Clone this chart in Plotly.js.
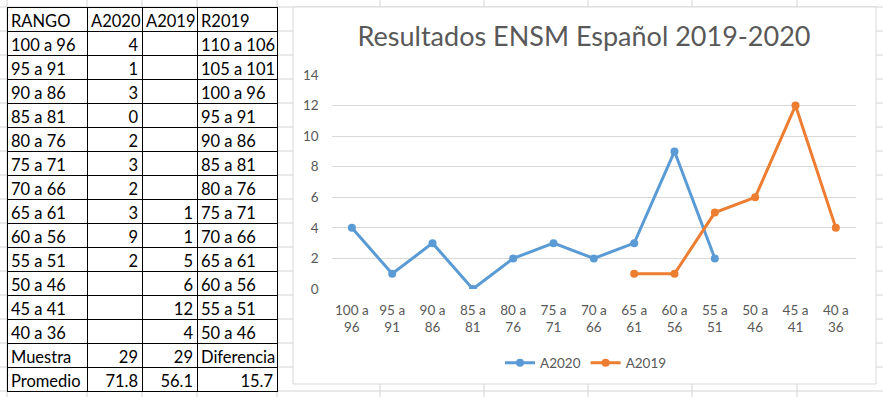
<!DOCTYPE html>
<html>
<head>
<meta charset="utf-8">
<script src="https://cdn.plot.ly/plotly-3.0.1.min.js"></script>
<style>html,body{margin:0;padding:0;background:#fff;}#chart{width:883px;height:397px;}</style>
</head>
<body>
<div id="chart"></div>
<script>
// ---- data ----
const rango = ['100 a 96','95 a 91','90 a 86','85 a 81','80 a 76','75 a 71','70 a 66','65 a 61','60 a 56','55 a 51','50 a 46','45 a 41','40 a 36'];
const a2020 = [4,1,3,0,2,3,2,3,9,2,null,null,null];
const a2019 = [null,null,null,null,null,null,null,1,1,5,6,12,4];
const r2019 = ['110 a 106','105 a 101','100 a 96','95 a 91','90 a 86','85 a 81','80 a 76','75 a 71','70 a 66','65 a 61','60 a 56','55 a 51','50 a 46'];
const tableHeader = ['RANGO','A2020','A2019','R2019'];
const muestraRow = ['Muestra', 29, 29, 'Diferencia'];
const promedioRow = ['Promedio', '71.8', '56.1', '15.7'];
const chartTitle = 'Resultados ENSM Español 2019-2020';
const yTicks = [0,2,4,6,8,10,12,14];

// ---- helpers ----
const W = 883, H = 397;
const px = x => x / W;
const py = y => 1 - y / H;
const blank = v => (v === null ? '' : v);
const nb = s => String(s).replace(/ /g, '\u00a0'); // keep cell text on one line

const col1 = rango.concat([muestraRow[0], promedioRow[0]]).map(nb);
const col2 = a2020.map(blank).concat([muestraRow[1], promedioRow[1]]);
const col3 = a2019.map(blank).concat([muestraRow[2], promedioRow[2]]);
const col4 = r2019.concat([muestraRow[3], promedioRow[3]]).map(nb);
const col4Align = col4.map((v, i) => (i === col4.length - 1 ? 'right' : 'left'));

const font = 'Lato, "Open Sans", sans-serif';
const grey = '#595959';

// spreadsheet background grid
const shapes = [];
const gridColor = '#d4d4d4';
for (let k = 0; k <= 16; k++) {
  const y = 7 + 24 * k;
  shapes.push({type:'line', xref:'paper', yref:'paper', x0:0, x1:1, y0:py(y), y1:py(y), line:{color:gridColor, width:1}, layer:'below'});
}
[7,87,142,197,277,380,484,588,692,797].forEach(x => {
  shapes.push({type:'line', xref:'paper', yref:'paper', x0:px(x), x1:px(x), y0:0, y1:1, line:{color:gridColor, width:1}, layer:'below'});
});
// chart area
shapes.push({type:'rect', xref:'paper', yref:'paper', x0:px(293), x1:px(876), y0:py(384), y1:py(7), fillcolor:'#ffffff', line:{color:'#d9d9d9', width:1}, layer:'below'});

const traces = [
  {
    type:'table',
    domain:{x:[px(7), px(277)], y:[py(392), py(7)]},
    columnwidth:[80,55,55,80],
    header:{
      values: tableHeader,
      height:24,
      align:['left','left','left','left'],
      line:{color:'#000', width:1},
      fill:{color:'#fff'},
      font:{family:font, size:16.5, color:'#000'}
    },
    cells:{
      values:[col1, col2, col3, col4],
      height:24,
      align:['left','right','right', col4Align],
      line:{color:'#000', width:1},
      fill:{color:'#fff'},
      font:{family:font, size:16.5, color:'#000'}
    }
  },
  {
    type:'scatter', mode:'lines+markers', name:'A2020',
    x: rango, y: a2020,
    line:{color:'#5B9BD5', width:3},
    marker:{color:'#5B9BD5', size:8},
    hoverinfo:'skip'
  },
  {
    type:'scatter', mode:'lines+markers', name:'A2019',
    x: rango, y: a2019,
    line:{color:'#ED7D31', width:3},
    marker:{color:'#ED7D31', size:8},
    hoverinfo:'skip'
  }
];

const layout = {
  width: W, height: H, autosize:false,
  margin:{l:0, r:0, t:0, b:0, pad:0},
  paper_bgcolor:'#ffffff', plot_bgcolor:'rgba(0,0,0,0)',
  font:{family:font, color:grey, size:13},
  title:{text: chartTitle, x: px(584), xanchor:'center', y: py(37), yanchor:'middle', font:{family:font, size:27, color:grey}},
  xaxis:{
    type:'category', domain:[px(331.7), px(856)], range:[-0.5, 12.5],
    tickvals: rango, ticktext: rango.map(r => r.replace(' a ', ' a<br>')),
    showgrid:false, zeroline:false, showline:false, ticks:'',
    ticklabelstandoff: 11,
    tickfont:{family:font, size:13.5, color:grey}
  },
  yaxis:{
    domain:[py(289), py(75)], range:[0,14], tickvals:yTicks,
    showgrid:true, gridcolor:'#d9d9d9', gridwidth:1, zeroline:false, showline:false, ticks:'',
    ticklabelstandoff: 12,
    tickfont:{family:font, size:13.5, color:grey}
  },
  showlegend:true,
  legend:{orientation:'h', x: px(586), xanchor:'center', y: py(363), yanchor:'middle', font:{family:font, size:13.5, color:grey}, bgcolor:'rgba(0,0,0,0)'},
  shapes: shapes
};

Plotly.newPlot('chart', traces, layout, {staticPlot:true, displayModeBar:false}).then(gd => {
  // spreadsheet-like cell padding (narrower than the table default)
  gd.querySelectorAll('.cell-text').forEach(t => {
    const holder = t.parentNode;
    if (!holder || !holder.getAttribute) return;
    const anchor = t.getAttribute('text-anchor') || window.getComputedStyle(t).textAnchor;
    const dx = anchor === 'end' ? 4 : (anchor === 'start' ? -4 : 0);
    if (!dx) return;
    const tr = holder.getAttribute('transform') || '';
    holder.setAttribute('transform', tr + ' translate(' + dx + ',0)');
  });
});
</script>
</body>
</html>
